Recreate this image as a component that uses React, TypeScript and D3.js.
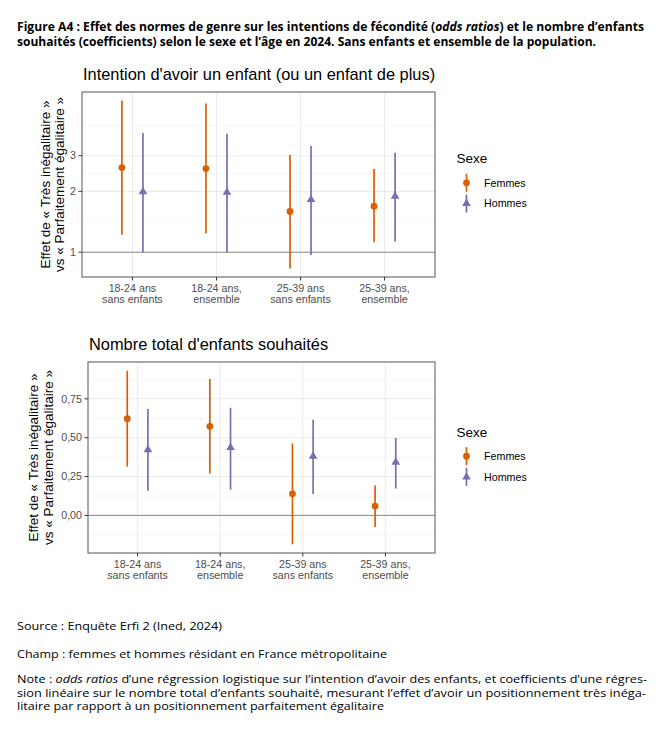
import * as d3 from 'd3';

// categories (x axis, two lines each)
const categories = ['18-24 ans sans enfants', '18-24 ans, ensemble', '25-39 ans sans enfants', '25-39 ans, ensemble'];
const categoryLines = [
  ['18-24 ans', 'sans enfants'],
  ['18-24 ans,', 'ensemble'],
  ['25-39 ans', 'sans enfants'],
  ['25-39 ans,', 'ensemble'],
];
const sexes = ['Femmes', 'Hommes'];

// Intention d'avoir un enfant : odds ratios
const orFemmes = [2.62, 2.59, 1.59, 1.69];
const orFemmesLow = [1.22, 1.24, 0.83, 1.12];
const orFemmesHigh = [5.63, 5.43, 3.03, 2.58];
const orHommes = [1.99, 1.98, 1.82, 1.89];
const orHommesLow = [1.0, 1.0, 0.97, 1.13];
const orHommesHigh = [3.89, 3.85, 3.35, 3.1];
const orTicks = [1, 2, 3];

// Nombre total d'enfants souhaités : coefficients
const coefFemmes = [0.622, 0.573, 0.139, 0.06];
const coefFemmesLow = [0.314, 0.269, -0.186, -0.075];
const coefFemmesHigh = [0.931, 0.878, 0.463, 0.192];
const coefHommes = [0.423, 0.436, 0.38, 0.342];
const coefHommesLow = [0.158, 0.165, 0.137, 0.173];
const coefHommesHigh = [0.684, 0.692, 0.615, 0.498];
const coefTicks = [0, 0.25, 0.5, 0.75];

const COLORS: Record<string, string> = { Femmes: '#D95F02', Hommes: '#7570B3' };
const FONT = '"Liberation Sans", Arial, Helvetica, sans-serif';
const TEXT_FONT = '"Open Sans", "Noto Sans", sans-serif';

interface Row {
  cat: string;
  sexe: string;
  est: number;
  low: number;
  high: number;
}

function rows(fe: number[], feL: number[], feH: number[], ho: number[], hoL: number[], hoH: number[]): Row[] {
  const out: Row[] = [];
  categories.forEach((c, i) => {
    out.push({ cat: c, sexe: 'Femmes', est: fe[i], low: feL[i], high: feH[i] });
    out.push({ cat: c, sexe: 'Hommes', est: ho[i], low: hoL[i], high: hoH[i] });
  });
  return out;
}

// ggplot-like minor breaks: midpoints between majors, extended by one step
function minorBreaks(major: number[], lim: [number, number]) {
  const b = major.slice();
  const bd = b[1] - b[0];
  if (lim[0] < b[0]) b.unshift(b[0] - bd);
  if (lim[1] > b[b.length - 1]) b.push(b[b.length - 1] + bd);
  const m: number[] = [];
  for (let i = 0; i < b.length - 1; i++) m.push((b[i] + b[i + 1]) / 2);
  return m.filter((v) => v >= lim[0] && v <= lim[1]);
}

interface PanelProps {
  title: string;
  data: Row[];
  log: boolean;
  ticks: number[];
  refValue: number;
  box: { left: number; right: number; top: number; bottom: number };
  titleY: number;
  yTitleX: [number, number];
  legendY: number;
  fmt: (v: number) => string;
}

function Panel({ title, data, log, ticks, refValue, box, titleY, yTitleX, legendY, fmt }: PanelProps) {
  const { left, right, top, bottom } = box;
  const tf = log ? Math.log10 : (v: number) => v;
  const inv = log ? (v: number) => Math.pow(10, v) : (v: number) => v;
  const lo = d3.min(data, (d) => tf(d.low)) as number;
  const hi = d3.max(data, (d) => tf(d.high)) as number;
  const pad = (hi - lo) * 0.05;
  const tlim: [number, number] = [lo - pad, hi + pad];

  const y = log
    ? d3.scaleLog().domain([inv(tlim[0]), inv(tlim[1])]).range([bottom, top])
    : d3.scaleLinear().domain(tlim).range([bottom, top]);
  const x = d3.scalePoint<string>().domain(categories).range([left, right]).padding(0.6);
  const dodge = d3.scalePoint<string>().domain(sexes).range([-x.step() / 8, x.step() / 8]);

  const minors = minorBreaks(ticks.map(tf), tlim).map(inv);
  const tri = d3.symbol().type(d3.symbolTriangle).size(32)() as string;
  const yMid = (top + bottom) / 2;

  return (
    <g>
      <text x={left + 1} y={titleY} fontFamily={FONT} fontSize={16.4} fill="#000">
        {title}
      </text>
      <rect x={left} y={top} width={right - left} height={bottom - top} fill="#fff" />
      {minors.map((m) => (
        <line key={'mi' + m} x1={left} x2={right} y1={y(m)} y2={y(m)} stroke="#F2F2F2" strokeWidth={0.7} />
      ))}
      {ticks.map((t) => (
        <line key={'ma' + t} x1={left} x2={right} y1={y(t)} y2={y(t)} stroke="#EBEBEB" strokeWidth={1.1} />
      ))}
      {categories.map((c) => (
        <line key={'vx' + c} x1={x(c)} x2={x(c)} y1={top} y2={bottom} stroke="#EBEBEB" strokeWidth={1.1} />
      ))}
      <line x1={left} x2={right} y1={y(refValue)} y2={y(refValue)} stroke="#8C8C8C" strokeWidth={1} />
      {data.map((d, i) => {
        const cx = (x(d.cat) as number) + (dodge(d.sexe) as number);
        const col = COLORS[d.sexe];
        return (
          <g key={'pt' + i}>
            <line x1={cx} x2={cx} y1={y(d.low)} y2={y(d.high)} stroke={col} strokeWidth={1.7} />
            {d.sexe === 'Femmes' ? (
              <circle cx={cx} cy={y(d.est)} r={3.4} fill={col} />
            ) : (
              <path d={tri} transform={`translate(${cx},${y(d.est)})`} fill={col} />
            )}
          </g>
        );
      })}
      <rect x={left} y={top} width={right - left} height={bottom - top} fill="none" stroke="#555" strokeWidth={1} />
      {ticks.map((t) => (
        <g key={'yt' + t}>
          <line x1={left - 3.5} x2={left} y1={y(t)} y2={y(t)} stroke="#333" strokeWidth={1} />
          <text x={left - 6} y={y(t)} dy="0.35em" textAnchor="end" fontFamily={FONT} fontSize={10.7} fill="#4D4D4D">
            {fmt(t)}
          </text>
        </g>
      ))}
      {categories.map((c, i) => (
        <g key={'xt' + c}>
          <line x1={x(c)} x2={x(c)} y1={bottom} y2={bottom + 3.5} stroke="#333" strokeWidth={1} />
          {categoryLines[i].map((l, j) => (
            <text key={j} x={x(c)} y={bottom + 14.5 + j * 11.8} textAnchor="middle" fontFamily={FONT} fontSize={10.7} fill="#4D4D4D">
              {l}
            </text>
          ))}
        </g>
      ))}
      <text transform={`translate(${yTitleX[0]},${yMid}) rotate(-90)`} textAnchor="middle" fontFamily={FONT} fontSize={13.5} fill="#000">
        Effet de « Très inégalitaire »
      </text>
      <text transform={`translate(${yTitleX[1]},${yMid}) rotate(-90)`} textAnchor="middle" fontFamily={FONT} fontSize={13.5} fill="#000">
        vs « Parfaitement égalitaire »
      </text>
      <g transform={`translate(456.5,${legendY})`}>
        <text x={0} y={0} fontFamily={FONT} fontSize={13.5} fill="#000">
          Sexe
        </text>
        {sexes.map((s, i) => {
          const ky = 19.5 + i * 20.7;
          return (
            <g key={s}>
              <line x1={10} x2={10} y1={ky - 9} y2={ky + 9} stroke={COLORS[s]} strokeWidth={1.7} />
              {s === 'Femmes' ? (
                <circle cx={10} cy={ky} r={3.4} fill={COLORS[s]} />
              ) : (
                <path d={tri} transform={`translate(10,${ky})`} fill={COLORS[s]} />
              )}
              <text x={27.5} y={ky} dy="0.35em" fontFamily={FONT} fontSize={10.7} fill="#000">
                {s}
              </text>
            </g>
          );
        })}
      </g>
    </g>
  );
}

const frFmt = (v: number) => d3.format('.2f')(v).replace('.', ',');

export default function App() {
  const orData = rows(orFemmes, orFemmesLow, orFemmesHigh, orHommes, orHommesLow, orHommesHigh);
  const coefData = rows(coefFemmes, coefFemmesLow, coefFemmesHigh, coefHommes, coefHommesLow, coefHommesHigh);
  return (
    <svg width={663} height={733} style={{ position: 'absolute', left: 0, top: 0, background: '#fff' }}>
      <rect width={663} height={733} fill="#fff" />
      <g fontFamily={TEXT_FONT} fontSize={11.8} fontWeight="bold" fill="#000">
        <text x={17} y={31} textLength={627} lengthAdjust="spacingAndGlyphs">
          Figure A4 : Effet des normes de genre sur les intentions de fécondité (<tspan fontStyle="italic">odds ratios</tspan>) et le nombre d’enfants
        </text>
        <text x={17} y={46} textLength={579} lengthAdjust="spacingAndGlyphs">
          souhaités (coefficients) selon le sexe et l’âge en 2024. Sans enfants et ensemble de la population.
        </text>
      </g>
      <Panel
        title="Intention d'avoir un enfant (ou un enfant de plus)"
        data={orData}
        log={true}
        ticks={orTicks}
        refValue={1}
        box={{ left: 82, right: 435, top: 92, bottom: 277 }}
        titleY={80}
        yTitleX={[49.5, 64]}
        legendY={163.3}
        fmt={(v) => String(v)}
      />
      <Panel
        title="Nombre total d'enfants souhaités"
        data={coefData}
        log={false}
        ticks={coefTicks}
        refValue={0}
        box={{ left: 88, right: 435, top: 362, bottom: 553 }}
        titleY={350}
        yTitleX={[37.5, 53]}
        legendY={436.7}
        fmt={frFmt}
      />
      <g fontFamily={TEXT_FONT} fontSize={11.4} fill="#000">
        <text x={17} y={630} textLength={205} lengthAdjust="spacingAndGlyphs">
          Source : Enquête Erfi 2 (Ined, 2024)
        </text>
        <text x={17} y={658} textLength={370} lengthAdjust="spacingAndGlyphs">
          Champ : femmes et hommes résidant en France métropolitaine
        </text>
      </g>
      <g fontFamily={TEXT_FONT} fontSize={10.8} fill="#000">
        <text x={17} y={683} textLength={630} lengthAdjust="spacingAndGlyphs">
          Note : <tspan fontStyle="italic">odds ratios</tspan> d’une régression logistique sur l’intention d’avoir des enfants, et coefficients d’une régres-
        </text>
        <text x={17} y={696.5} textLength={629} lengthAdjust="spacingAndGlyphs">
          sion linéaire sur le nombre total d’enfants souhaité, mesurant l’effet d’avoir un positionnement très inéga-
        </text>
        <text x={17} y={710} textLength={367} lengthAdjust="spacingAndGlyphs">
          litaire par rapport à un positionnement parfaitement égalitaire
        </text>
      </g>
    </svg>
  );
}
